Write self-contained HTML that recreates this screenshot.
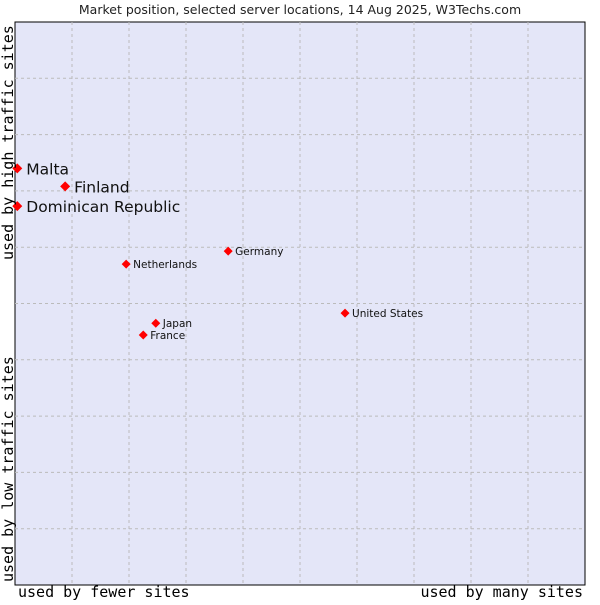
<!DOCTYPE html>
<html><head><meta charset="utf-8"><style>
body{margin:0;background:#fff;width:600px;height:600px;overflow:hidden}
svg text{font-family:"DejaVu Sans","Liberation Sans",sans-serif}
.mono{font-family:"DejaVu Sans Mono","Liberation Mono",monospace}
</style></head><body>
<svg id="chart" width="600" height="600" xmlns="http://www.w3.org/2000/svg">
<text x="300" y="14" text-anchor="middle" font-size="12.5" fill="#222">Market position, selected server locations, 14 Aug 2025, W3Techs.com</text>
<rect x="15" y="22" width="570" height="563" fill="#e4e6f8" stroke="#000" stroke-width="1"/>
<g id="grid"></g>
<g id="points"></g>
<text class="mono" x="18" y="597" font-size="15" fill="#000">used by fewer sites</text>
<text class="mono" x="583" y="597" font-size="15" text-anchor="end" fill="#000">used by many sites</text>
<text class="mono" transform="translate(13,582) rotate(-90)" font-size="15" fill="#000">used by low traffic sites</text>
<text class="mono" transform="translate(13,260) rotate(-90)" font-size="15" fill="#000">used by high traffic sites</text>
</svg>
<script>
const names=["Malta","Finland","Dominican Republic","Netherlands","Germany","United States","Japan","France"];
const xValues=[0.4,8.8,0.4,19.5,37.4,57.9,24.7,22.5];
const yValues=[74.0,70.8,67.3,57.0,59.3,48.3,46.5,44.4];
const bigLabel=[true,true,true,false,false,false,false,false];
const ns="http://www.w3.org/2000/svg";
const L=15,R=585,T=22,B=585;
const sx=v=>L+v/100*(R-L), sy=v=>B-v/100*(B-T);
const grid=document.getElementById('grid');
for(let i=1;i<10;i++){
  const v=document.createElementNS(ns,'line');
  
  
  const x=sx(i*10);
  v.setAttribute('x1',x);v.setAttribute('x2',x);v.setAttribute('y1',T);v.setAttribute('y2',B);
  v.setAttribute('stroke','#bbb');v.setAttribute('stroke-dasharray','3,3');
  grid.appendChild(v);
  const h=document.createElementNS(ns,'line');
  
  
  const y=sy(i*10);
  h.setAttribute('x1',L);h.setAttribute('x2',R);h.setAttribute('y1',y);h.setAttribute('y2',y);
  h.setAttribute('stroke','#bbb');h.setAttribute('stroke-dasharray','3,3');
  grid.appendChild(h);
}
const pts=document.getElementById('points');
names.forEach((n,i)=>{
  const x=sx(xValues[i]),y=sy(yValues[i]);
  const s=bigLabel[i]?5:4.5;
  const p=document.createElementNS(ns,'polygon');
  
  
  p.setAttribute('points',`${x},${y-s} ${x+s},${y} ${x},${y+s} ${x-s},${y}`);
  p.setAttribute('fill','#f00');
  pts.appendChild(p);
  const t=document.createElementNS(ns,'text');
  
  
  t.setAttribute('x',x+(bigLabel[i]?9:7));
  t.setAttribute('y',y+(bigLabel[i]?6:4));
  t.setAttribute('font-size',bigLabel[i]?15.5:10.5);
  t.setAttribute('fill','#111');
  t.textContent=n;
  pts.appendChild(t);
});
</script>
</body></html>
